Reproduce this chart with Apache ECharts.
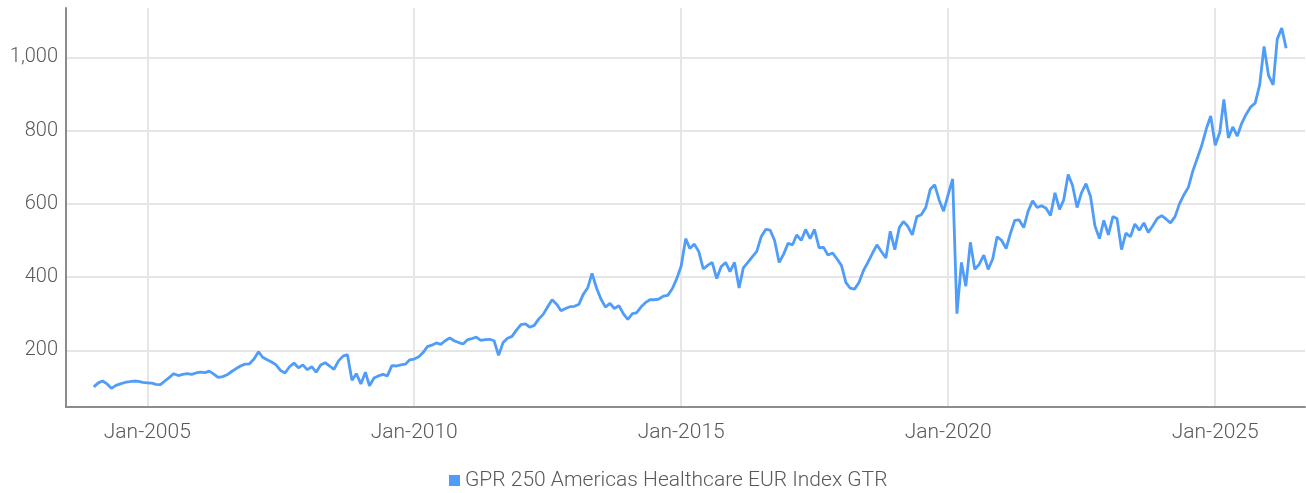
<!DOCTYPE html>
<html>
<head>
<meta charset="utf-8">
<title>GPR 250 Americas Healthcare EUR Index GTR</title>
<script src="https://cdn.jsdelivr.net/npm/echarts@6/dist/echarts.min.js"></script>
<style>
    html, body { margin: 0; padding: 0; background: #fff; }
    #main { width: 1306px; height: 493px; }
</style>
</head>
<body>
<div id="main"></div>
<script>
// monthly index values (1st of each month)
var startYear = 2004;
var v2004 = [100, 111, 116, 108, 96, 104, 108, 112, 114, 116, 115, 112];
var v2005 = [111, 110, 107, 106, 116, 126, 136, 131, 134, 136, 134, 138];
var v2006 = [140, 139, 143, 135, 126, 128, 133, 142, 150, 157, 162, 163];
var v2007 = [176, 196, 181, 174, 168, 160, 145, 138, 155, 165, 152, 160];
var v2008 = [147, 155, 140, 160, 166, 157, 148, 171, 184, 188, 118, 136];
var v2009 = [108, 140, 103, 124, 130, 134, 130, 158, 157, 160, 162, 174];
var v2010 = [176, 182, 193, 210, 214, 220, 216, 226, 234, 226, 221, 217];
var v2011 = [229, 232, 236, 227, 229, 230, 226, 186, 221, 233, 238, 255];
var v2012 = [270, 272, 263, 268, 285, 298, 318, 338, 326, 308, 314, 319];
var v2013 = [320, 326, 352, 370, 410, 370, 340, 318, 328, 314, 322, 300];
var v2014 = [284, 300, 302, 318, 330, 338, 338, 340, 348, 350, 368, 395];
var v2015 = [430, 505, 478, 490, 470, 422, 432, 440, 396, 428, 440, 415];
var v2016 = [440, 370, 425, 440, 455, 470, 510, 530, 528, 500, 440, 462];
var v2017 = [492, 488, 515, 500, 530, 505, 530, 480, 481, 460, 466, 450];
var v2018 = [432, 385, 370, 367, 385, 418, 440, 465, 488, 470, 452, 525];
var v2019 = [475, 535, 552, 538, 515, 565, 570, 590, 640, 652, 610, 580];
var v2020 = [625, 668, 300, 440, 375, 495, 421, 435, 460, 421, 450, 510];
var v2021 = [500, 478, 518, 555, 556, 535, 580, 608, 590, 595, 588, 568];
var v2022 = [630, 585, 610, 680, 650, 590, 630, 655, 620, 540, 505, 555];
var v2023 = [515, 565, 560, 475, 520, 510, 545, 528, 548, 522, 540, 560];
var v2024 = [568, 558, 548, 565, 600, 625, 645, 690, 725, 760, 805, 840];
var v2025 = [760, 795, 885, 780, 810, 785, 820, 845, 865, 875, 925, 1030];
var v2026 = [950, 925, 1050, 1080, 1025];

var years = [v2004, v2005, v2006, v2007, v2008, v2009, v2010, v2011, v2012,
    v2013, v2014, v2015, v2016, v2017, v2018, v2019, v2020, v2021, v2022,
    v2023, v2024, v2025, v2026];

var tickYears = [2005, 2010, 2015, 2020, 2025];
var yTicks = [200, 400, 600, 800, 1000];
var seriesName = 'GPR 250 Americas Healthcare EUR Index GTR';

var series_data = [];
for (var i = 0; i < years.length; i++) {
    for (var m = 0; m < years[i].length; m++) {
        series_data.push([new Date(startYear + i, m, 1).getTime(), years[i][m]]);
    }
}
var xTicks = tickYears.map(function (y) { return new Date(y, 0, 1).getTime(); });

var font = 'Roboto, "Noto Sans", sans-serif';
var textColor = '#595959';

var myChart = echarts.init(document.getElementById('main'));
option = {
    animation: false,
    backgroundColor: '#fff',
    grid: {
        left: 66, right: 1, top: 8, bottom: 86,
        containLabel: false,
        outerBoundsMode: 'none'
    },
    legend: {
        data: [seriesName],
        left: 444,
        top: 465,
        icon: 'rect',
        itemWidth: 11,
        itemHeight: 11,
        textStyle: { fontFamily: font, fontSize: 21, fontWeight: 300, color: textColor }
    },
    xAxis: {
        // timestamps on a value axis so the 5-year ticks can be placed exactly
        type: 'value',
        min: new Date(2003, 5, 25).getTime(),
        max: new Date(2026, 8, 7).getTime(),
        axisLine: { lineStyle: { color: '#8c8c8c', width: 2 } },
        axisTick: { show: false, customValues: xTicks },
        axisLabel: {
            customValues: xTicks,
            margin: 15,
            fontFamily: font, fontSize: 21, fontWeight: 300, color: textColor,
            formatter: function (val) {
                return 'Jan-' + new Date(val).getFullYear();
            }
        },
        splitLine: { show: true, lineStyle: { color: '#e6e6e6', width: 2 } }
    },
    yAxis: {
        type: 'value',
        min: 45,
        max: 1135,
        axisLine: { show: true, lineStyle: { color: '#8c8c8c', width: 2 } },
        axisTick: { show: false, customValues: yTicks },
        axisLabel: {
            customValues: yTicks,
            margin: 8,
            fontFamily: font, fontSize: 20, fontWeight: 300, color: textColor,
            formatter: function (val) { return val.toLocaleString('en-US'); }
        },
        splitLine: { show: true, lineStyle: { color: '#e6e6e6', width: 2 } }
    },
    series: [
        {
            name: seriesName,
            type: 'line',
            data: series_data,
            showSymbol: false,
            symbol: 'none',
            color: '#4f9cf9',
            lineStyle: { width: 2.8, color: '#4f9cf9' }
        }
    ]
};
myChart.setOption(option);
</script>
</body>
</html>
